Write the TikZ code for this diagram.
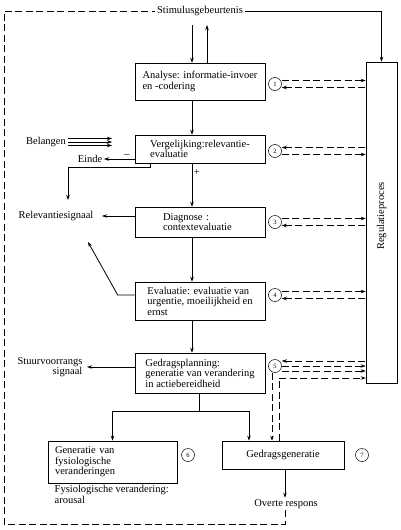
\documentclass[tikz,border=0pt]{standalone}
\usepackage{fontspec}
\setmainfont{Liberation Serif}
\usetikzlibrary{arrows.meta}

\begin{document}
\begin{tikzpicture}[x=1pt, y=-1pt, >={Stealth[length=5pt,width=3.5pt]},
  font=\fontsize{10.5}{10.5}\selectfont,
  proces/.style={draw, line width=0.6pt, align=left, minimum width=130pt, inner xsep=6pt},
  nummer/.style={draw, circle, line width=0.5pt, minimum size=13pt, inner sep=0pt, font=\fontsize{6.5}{6.5}\selectfont},
  tekst/.style={inner sep=1.5pt},
  pijl/.style={->, line width=0.8pt},
  streep/.style={line width=0.7pt, dash pattern=on 7pt off 3.5pt}]
\useasboundingbox (0,0) rectangle (400,530);

% processen
\node[proces, minimum height=37pt] (analyse) at (200,81.5) {Analyse: informatie-invoer\\en -codering};
\node[proces, minimum height=28pt] (vergelijk) at (200,149) {Vergelijking:relevantie-\\evaluatie};
\node[proces, minimum height=30pt, text width=74pt] (diagnose) at (200,222) {Diagnose :\\contextevaluatie};
\node[proces, minimum height=38pt] (evaluatie) at (200,301) {Evaluatie: evaluatie van\\urgentie, moeilijkheid en\\ernst};
\node[proces, minimum height=40pt] (planning) at (200,373) {Gedragsplanning:\\generatie van verandering\\in actiebereidheid};
\node[proces, minimum width=129pt, minimum height=42pt, text width=115pt, inner xsep=7pt] (fysio) at (112.5,462) {Generatie van\\fysiologische\\veranderingen};
\node[proces, minimum width=122pt, minimum height=28pt, align=center] (gedrag) at (283,455) {Gedragsgeneratie};
\node[proces, minimum width=31pt, minimum height=321pt] (regulatie) at (381.5,222.5) {};
\node[rotate=90] (regtekst) at (381.5,216) {Regulatieproces};

% nummers
\foreach \n/\y in {1/84, 2/151, 3/222, 4/295, 5/366}
  \node[nummer] (c\n) at (275,\y) {\n};
\node[nummer] (c6) at (188,455) {6};
\node[nummer] (c7) at (362,455) {7};

% losse teksten
\node[tekst] (stimulus) at (200,11) {Stimulusgebeurtenis};
\node[tekst] (belangen) at (46,142) {Belangen};
\node[tekst] (einde) at (90,159) {Einde};
\node[tekst] (relevant) at (56,216) {Relevantiesignaal};
\node[tekst, align=right] (stuur) at (50,367) {Stuurvoorrangs\\signaal};
\node[tekst, align=left, anchor=north west] (arousal) at (53,484) {Fysiologische verandering:\\arousal};
\node[tekst] (overt) at (286,504) {Overte respons};

\coordinate (in) at (192,25);
\coordinate (uit) at (207,25);
\coordinate (bel) at (112,142);
\coordinate (relboven) at (68,200);
\coordinate (pijlpunt) at (88,242);
\coordinate (hoek) at (4,524);

% hoofdlijn
\draw[pijl] (in) -- (in |- analyse.north);
\draw[pijl] (uit |- analyse.north) -- (uit);
\draw[pijl] ([xshift=-8pt]analyse.south) -- ([xshift=-8pt]vergelijk.north);
\draw[pijl] ([xshift=-8pt]vergelijk.south) -- ([xshift=-8pt]diagnose.north) node[pos=0.22, right, tekst] {+};
\draw[pijl] ([xshift=-8pt]diagnose.south) -- ([xshift=-8pt]evaluatie.north);
\draw[pijl] ([xshift=-8pt]evaluatie.south) -- ([xshift=-8pt]planning.north);

% zijtakken
\foreach \dy in {-3.5,0,3.5}
  \draw[->, line width=0.6pt] ([yshift=\dy pt]belangen.east) -- ([yshift=\dy pt]bel);
\draw[pijl] (vergelijk.west |- einde) -- (einde) node[pos=0.25, above, tekst] {--};
\draw[pijl] ([xshift=-50pt]vergelijk.south) -- ++(0,4) -| (relboven);
\draw[pijl] (diagnose.west |- relevant) -- ([xshift=7pt]relevant.east);
\draw[pijl] ([yshift=6pt]evaluatie.west) -- ++(-17,0) -- (pijlpunt);
\draw[pijl] (planning.west |- stuur) -- ([xshift=3pt]stuur.east);
\draw[line width=0.8pt] ([xshift=-1pt]planning.south) -- ++(0,18) coordinate (splits);
\draw[pijl] (splits) -| (fysio.north);
\draw[pijl] (splits) -| ([xshift=-34pt]gedrag.north);
\draw[pijl] ([xshift=2pt]gedrag.south) -- ([xshift=2pt]gedrag.south |- overt.north);

% terugkoppeling
\draw[streep] ([xshift=-1pt]overt.south) |- (hoek) |- (stimulus.west);
\draw[pijl] (stimulus.east) -| (regulatie.north);

% regulatie
\foreach \n/\boven/\onder in {1/->/<-, 2/<-/->, 3/->/<-, 4/->/<-} {
  \draw[streep,\boven] ([yshift=3.5pt]c\n.east) -- ([yshift=3.5pt]c\n.east -| regulatie.west);
  \draw[streep,\onder] ([yshift=-3.5pt]c\n.east) -- ([yshift=-3.5pt]c\n.east -| regulatie.west);
}
\draw[streep,<-] ([yshift=5pt]c5.east) -- ([yshift=5pt]c5.east -| regulatie.west);
\draw[streep,->] (c5.east) -- (c5.east -| regulatie.west);
\draw[streep,->] ([yshift=-5pt]c5.east) -- ([yshift=-5pt]c5.east -| regulatie.west);
\draw[streep,->] ([xshift=-3pt]c5.south) -- ([xshift=-3pt]c5.south |- gedrag.north);
\draw[streep,->] ([xshift=-4pt]gedrag.north) |- ([yshift=-12pt]c5.center -| regulatie.west);
\end{tikzpicture}
\end{document}
